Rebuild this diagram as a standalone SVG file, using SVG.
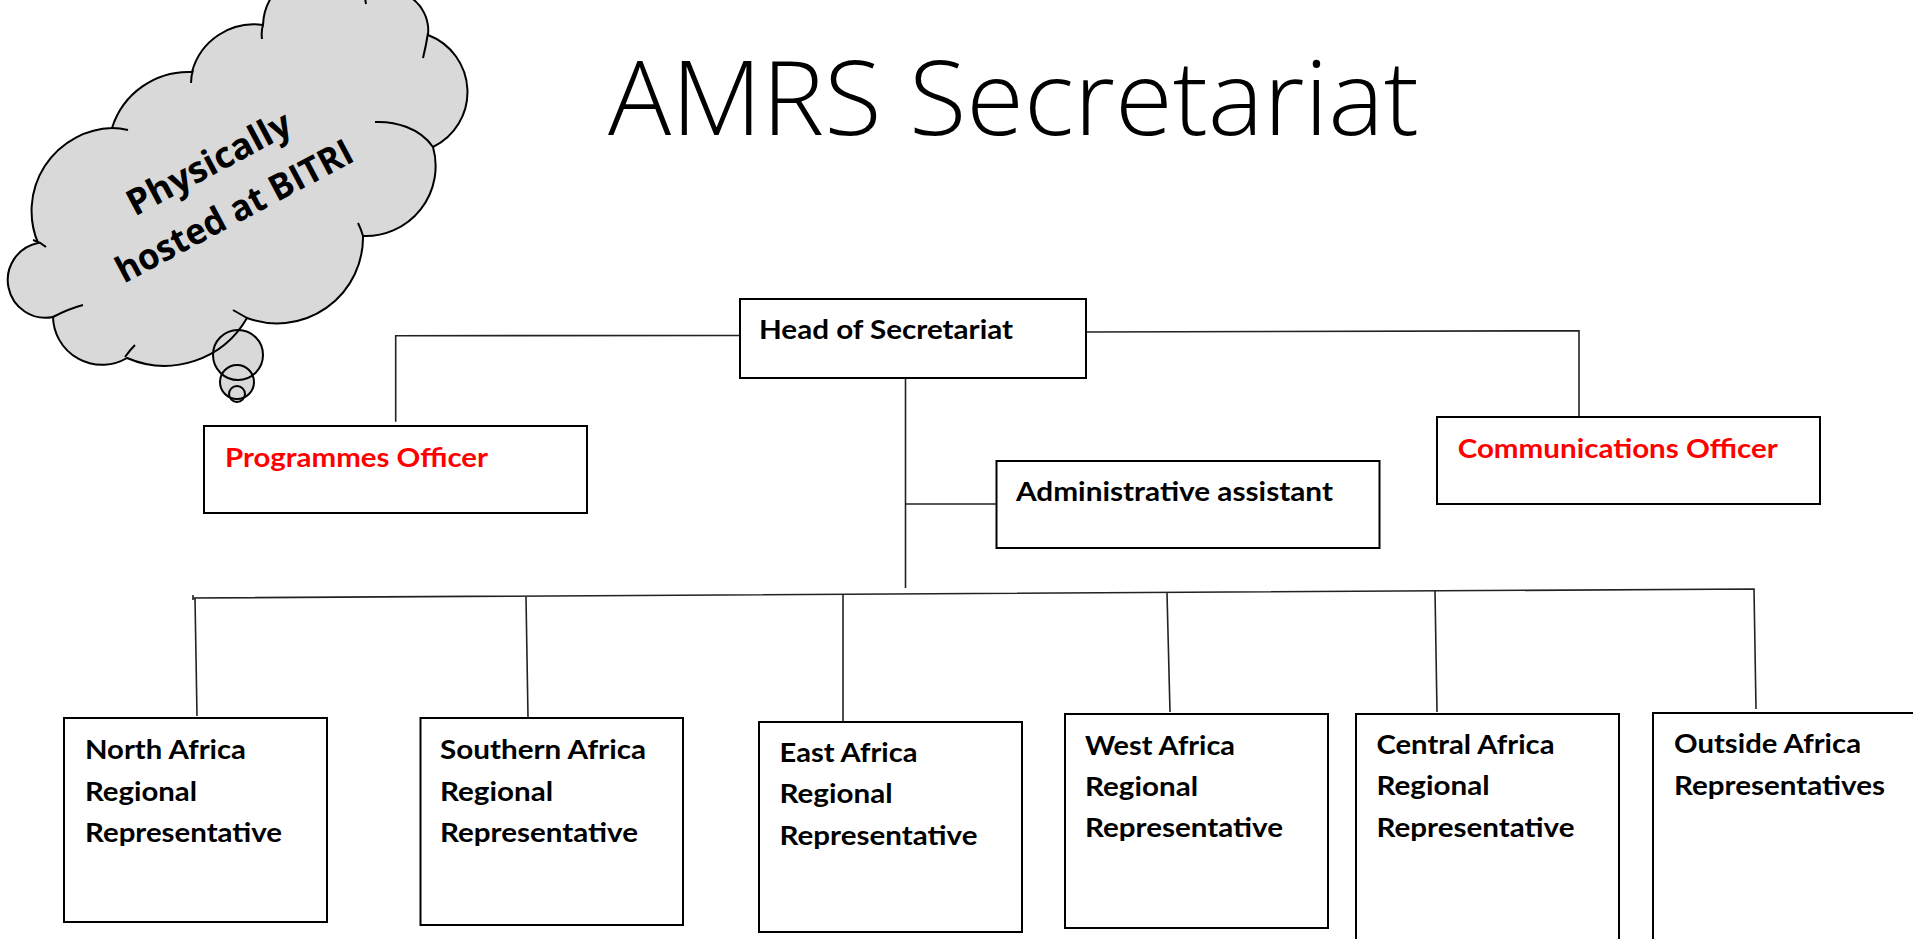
<svg xmlns="http://www.w3.org/2000/svg" width="1913" height="939" viewBox="0 0 1913 939">
<style>
.box{fill:#fff;stroke:#000;stroke-width:2}
.conn{fill:none;stroke:#222;stroke-width:1.6}
.lbl{font-family:Lato,"Open Sans",sans-serif;font-weight:700;font-size:27px;fill:#000}
.red{fill:#ff0000}
.cl{fill:none;stroke:#000;stroke-width:2}
.ct{font-family:"Open Sans","Noto Sans",sans-serif;font-weight:700;font-size:36px;fill:#000}
</style>
<rect width="1913" height="939" fill="#fff"/>
<g id="title">
<text x="608" y="135" font-family="'Open Sans',Lato,sans-serif" font-weight="300" font-size="104" textLength="811" lengthAdjust="spacingAndGlyphs" fill="#000">AMRS Secretariat</text>
</g>
<g id="cloud">
<path d="M263,25 A55 55 0 0 1 365,-2 A40 40 0 0 1 428,35 A61 61 0 0 1 433,147 A70 70 0 0 1 363,236 A86 86 0 0 1 247,318 A95 95 0 0 1 127,358 A49 49 0 0 1 53,317 A36 36 0 0 1 38,243 A83 83 0 0 1 112,128 A80 80 0 0 1 192,72 A64 64 0 0 1 263,25 Z" fill="#d9d9d9"/>
<circle cx="238" cy="355" r="25" fill="#d9d9d9"/>
<circle cx="237" cy="382" r="17" fill="#d9d9d9"/>
<circle cx="237" cy="394" r="8" fill="#d9d9d9"/>
<path class="cl" d="M263,25 A55 55 0 0 1 365,-2 A40 40 0 0 1 428,35 A61 61 0 0 1 433,147 A70 70 0 0 1 363,236 A86 86 0 0 1 247,318 A95 95 0 0 1 127,358 A49 49 0 0 1 53,317 A36 36 0 0 1 38,243 A83 83 0 0 1 112,128 A80 80 0 0 1 192,72 A64 64 0 0 1 263,25 Z"/>
<path class="cl" d="M262,39 Q261,31 263,25 M191,83 Q191,76 193,70 M112,128 Q120,128 128,130 M33,240 Q40,242 46,247 M53,317 Q68,309 83,305 M125,357 Q130,350 135,345 M233,310 Q240,314 247,318 M358,223 Q361,229 363,236 M375,122 C395,121 420,128 433,147 M423,58 Q426,46 428,33 M365,-2 L366,4"/>
<circle class="cl" cx="238" cy="355" r="25"/>
<circle class="cl" cx="237" cy="382" r="17"/>
<circle class="cl" cx="237" cy="394" r="8"/>
<g transform="translate(240,222) rotate(-28)">
<text class="ct" x="0" y="-54" text-anchor="middle" textLength="181" lengthAdjust="spacingAndGlyphs">Physically</text>
<text class="ct" x="0" y="0" text-anchor="middle" textLength="263" lengthAdjust="spacingAndGlyphs">hosted at BITRI</text>
</g>
</g>
<g id="connectors">
<polyline class="conn" points="740,335.5 395.7,335.7 395.7,421.7"/>
<polyline class="conn" points="1086,332 1579,330.7 1579,416"/>
<line class="conn" x1="905.5" y1="378" x2="905.5" y2="588"/>
<line class="conn" x1="905.5" y1="504" x2="996.5" y2="504"/>
<polyline class="conn" points="193,598 1754,589 1756,709"/>
<line class="conn" x1="193" y1="595" x2="193" y2="600"/>
<line class="conn" x1="195" y1="598" x2="197" y2="716"/>
<line class="conn" x1="526" y1="597" x2="528" y2="717"/>
<line class="conn" x1="843" y1="594" x2="843" y2="722"/>
<line class="conn" x1="1167" y1="593" x2="1170" y2="712"/>
<line class="conn" x1="1435" y1="591" x2="1437" y2="712"/>
</g>
<g id="head">
<rect class="box" x="740" y="299" width="346" height="79"/>
<text class="lbl" x="759" y="339" textLength="254" lengthAdjust="spacingAndGlyphs">Head of Secretariat</text>
</g>
<g id="programmes">
<rect class="box" x="204" y="426" width="383" height="87"/>
<text class="lbl red" x="225" y="466.7" textLength="263" lengthAdjust="spacingAndGlyphs">Programmes Officer</text>
</g>
<g id="admin">
<rect class="box" x="996.5" y="461" width="383" height="87"/>
<text class="lbl" x="1016" y="500.7" textLength="317" lengthAdjust="spacingAndGlyphs">Administrative assistant</text>
</g>
<g id="communications">
<rect class="box" x="1437" y="417" width="383" height="87"/>
<text class="lbl red" x="1457.7" y="457.7" textLength="320" lengthAdjust="spacingAndGlyphs">Communications Officer</text>
</g>
<g id="north">
<rect class="box" x="64" y="718" width="263" height="204"/>
<text class="lbl" x="85" y="759" textLength="161" lengthAdjust="spacingAndGlyphs">North Africa</text>
<text class="lbl" x="85" y="800.7" textLength="112" lengthAdjust="spacingAndGlyphs">Regional</text>
<text class="lbl" x="85" y="841.7" textLength="197" lengthAdjust="spacingAndGlyphs">Representative</text>
</g>
<g id="southern">
<rect class="box" x="420.5" y="718" width="262.5" height="207"/>
<text class="lbl" x="440" y="759" textLength="206" lengthAdjust="spacingAndGlyphs">Southern Africa</text>
<text class="lbl" x="440" y="800.7" textLength="113" lengthAdjust="spacingAndGlyphs">Regional</text>
<text class="lbl" x="440" y="841.7" textLength="198" lengthAdjust="spacingAndGlyphs">Representative</text>
</g>
<g id="east">
<rect class="box" x="759" y="722" width="263" height="210"/>
<text class="lbl" x="779.5" y="762" textLength="138" lengthAdjust="spacingAndGlyphs">East Africa</text>
<text class="lbl" x="779.5" y="803" textLength="113" lengthAdjust="spacingAndGlyphs">Regional</text>
<text class="lbl" x="779.5" y="845" textLength="198" lengthAdjust="spacingAndGlyphs">Representative</text>
</g>
<g id="west">
<rect class="box" x="1065" y="714" width="263" height="214"/>
<text class="lbl" x="1085" y="755" textLength="150" lengthAdjust="spacingAndGlyphs">West Africa</text>
<text class="lbl" x="1085" y="796" textLength="113" lengthAdjust="spacingAndGlyphs">Regional</text>
<text class="lbl" x="1085" y="837" textLength="198" lengthAdjust="spacingAndGlyphs">Representative</text>
</g>
<g id="central">
<rect class="box" x="1356" y="714" width="263" height="240"/>
<text class="lbl" x="1376.5" y="754.3" textLength="178" lengthAdjust="spacingAndGlyphs">Central Africa</text>
<text class="lbl" x="1376.5" y="795" textLength="113" lengthAdjust="spacingAndGlyphs">Regional</text>
<text class="lbl" x="1376.5" y="836.7" textLength="198" lengthAdjust="spacingAndGlyphs">Representative</text>
</g>
<g id="outside">
<rect class="box" x="1653" y="713" width="300" height="240"/>
<text class="lbl" x="1674" y="753.3" textLength="187" lengthAdjust="spacingAndGlyphs">Outside Africa</text>
<text class="lbl" x="1674" y="795" textLength="211" lengthAdjust="spacingAndGlyphs">Representatives</text>
</g>
</svg>
